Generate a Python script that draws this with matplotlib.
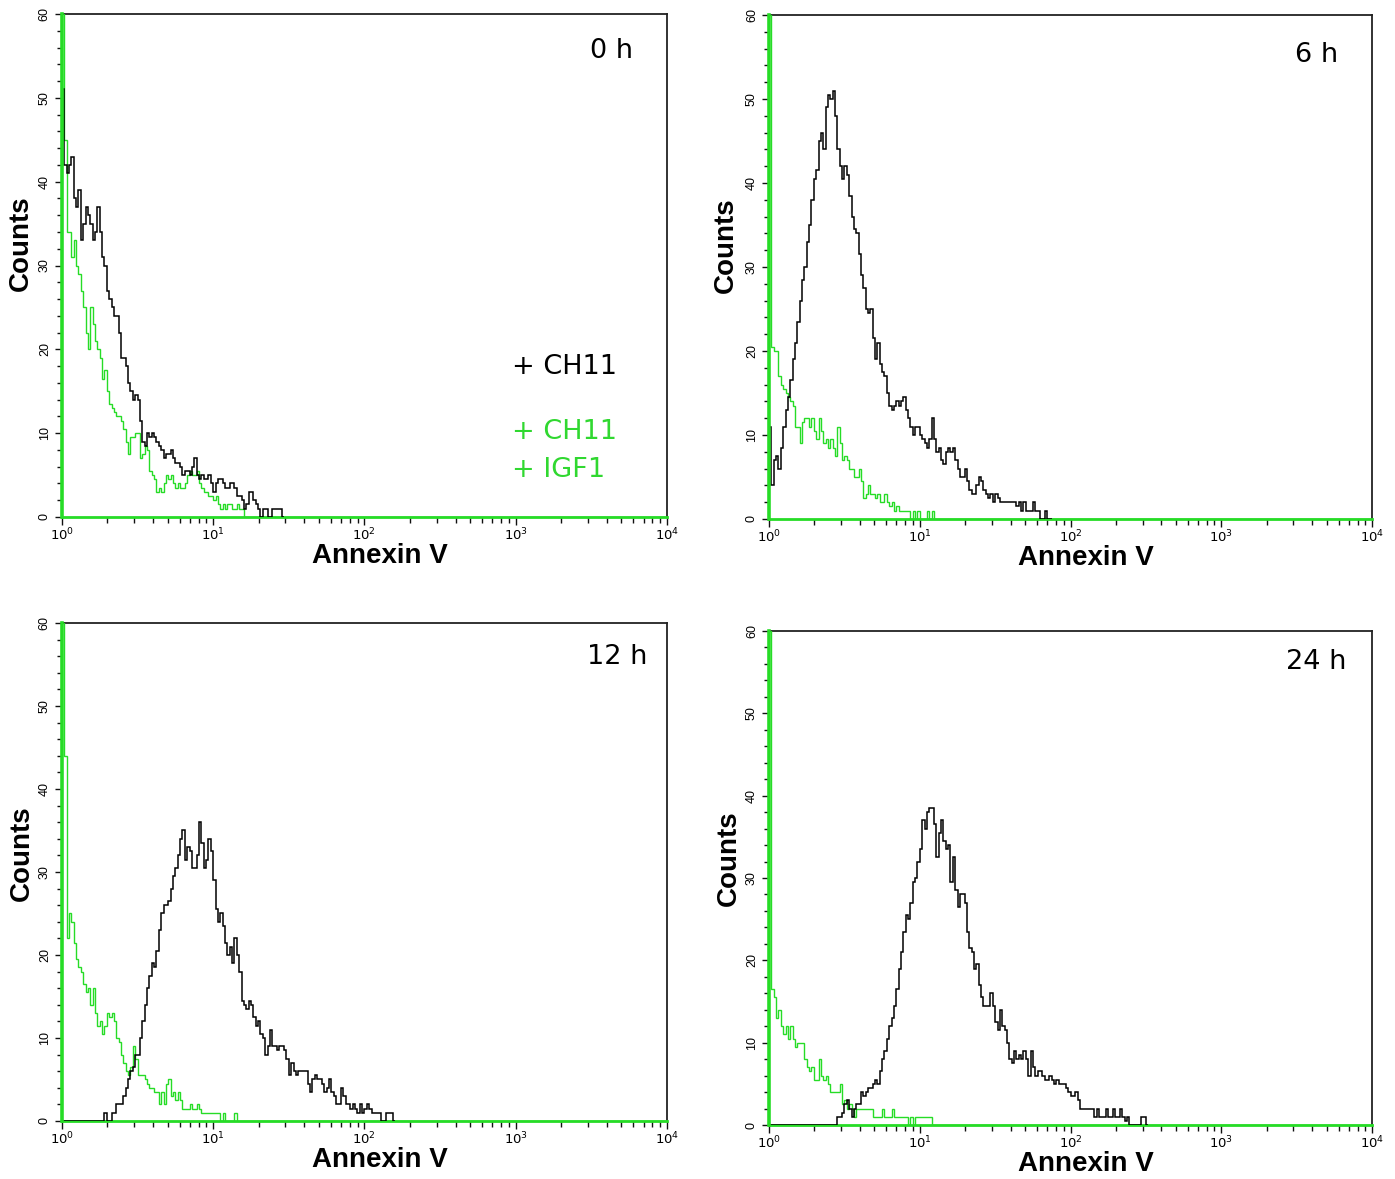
import numpy as np
import matplotlib
matplotlib.use("Agg")
import matplotlib.pyplot as plt
from matplotlib.ticker import FixedLocator, NullFormatter

# ---------------- data ----------------
CHANNELS_PER_DECADE = 64          # 256 log channels over 4 decades
N_CHANNELS = 256
PANEL_TITLES = ["0 h", "6 h", "12 h", "24 h"]
LEGEND_LABELS = ["+ CH11", "+ CH11", "+ IGF1"]
X_LABEL = "Annexin V"
Y_LABEL = "Counts"
Y_TICKS = [0, 10, 20, 30, 40, 50, 60]
X_TICKS = [1, 10, 100, 1000, 10000]
X_TICK_LABELS = [r"$10^0$", r"$10^1$", r"$10^2$", r"$10^3$", r"$10^4$"]

# counts per channel, starting at channel 0 (black = CH11, green = CH11 + IGF1)
CH11_0H = [51, 42, 41, 42, 43, 38, 37, 39, 33, 35, 37, 36, 35, 33, 34, 37, 34, 31, 30, 27,
           26, 25, 24, 24, 22, 19, 19, 18, 16, 15, 14, 14.5, 14, 11.5, 9, 8.5, 10, 9.5, 10, 9.5,
           9, 8.5, 8, 7, 7.5, 7.5, 8, 7, 6.5, 6.5, 6, 5, 5.5, 5.5, 5, 6, 7, 5, 4.5, 5,
           4.5, 4.5, 5, 4, 3, 4, 4.5, 4.5, 4, 3.5, 3.5, 4, 4, 3.5, 2.5, 2.5, 2, 1, 1.5, 3,
           3, 2, 1.5, 1, 0, 1, 1, 0, 0, 1, 1, 1, 1, 0]
CH11_IGF1_0H = [80, 45, 34, 34, 31, 33, 30, 29, 27, 25, 22, 20, 25, 23, 21, 20, 19, 16.5, 17.5, 15,
                13.5, 13, 12.5, 12, 12, 11.5, 10.5, 9, 7.5, 9.5, 9.5, 10, 10, 7, 7.5, 8.5, 8, 5.5, 5, 4.5,
                3, 3.5, 3, 4, 5, 4.5, 5, 4, 3.5, 4, 3.5, 3.5, 4, 5, 5.5, 5, 5, 5.5, 4, 3.5,
                3, 3, 2.5, 2.5, 2, 2.5, 1.5, 1, 1.5, 1, 1.5, 1.5, 1, 1, 1.5, 1, 1, 0]

CH11_6H = [11, 4, 7, 7.5, 6, 8.5, 11, 13, 14.5, 16.5, 19, 21, 23.5, 26, 28.5, 30, 33, 35, 38, 40.5,
           41.5, 45, 46, 44, 49, 50.5, 50, 51, 48, 44, 42, 40.5, 42, 41, 38.5, 36, 34.5, 34, 31.5, 29,
           27.5, 25, 24.5, 25, 21.5, 19, 21, 18.5, 17.5, 17, 15, 13.5, 13, 13.5, 14, 13.5, 14, 14.5, 13, 12,
           11, 10, 11, 11, 10, 9.5, 9, 8.5, 9.5, 12, 9.5, 8, 8.5, 7, 6.5, 8, 8.5, 8, 8.5, 7,
           6, 5, 5, 6, 4.5, 3.5, 3, 3, 4, 5, 4.5, 3.5, 3, 2.5, 3, 2, 3, 2.5, 2, 2,
           2, 2, 2, 2, 2, 1.5, 2, 1, 2, 1, 1, 1, 2, 1, 1, 0, 0, 1, 0, 0]
CH11_IGF1_6H = [80, 20.5, 20, 20, 17, 16, 15.5, 15, 14.5, 14, 13.5, 11, 11, 9, 11.5, 12, 12, 11, 12, 10.5,
                9.5, 12, 10.5, 9, 9.5, 8.5, 9.5, 8.5, 7.5, 11, 9, 7, 7.5, 7, 6, 6, 5, 5, 6, 4.5,
                2.5, 3, 4, 3, 3, 2.5, 3, 2, 2, 3, 2, 1.5, 2, 1, 1.5, 1, 1, 1, 1, 1,
                0, 1, 0, 1, 0, 0, 0, 1, 0, 1, 0]

CH11_12H = [0, 0, 0, 0, 0, 0, 0, 0, 0, 0, 0, 0, 0, 0, 0, 0, 0, 0, 1, 0,
            0, 1, 1, 2, 2, 2, 3, 4, 5, 6, 6.5, 8, 8, 10, 12, 14, 16, 17.5, 19, 18.5,
            20.5, 23, 25, 26, 26, 26.5, 28, 29.5, 30.5, 32, 34, 35, 31.5, 33, 32.5, 30.5, 30.5, 32, 36, 33.5,
            30.5, 31.5, 34, 32.5, 29, 25.5, 24, 25, 23.5, 21.5, 20, 21, 19, 22, 20, 18, 14.5, 14, 13.5, 14.5,
            14, 12.5, 11.5, 12, 10.5, 10, 8, 9, 11, 9, 9, 8.5, 9, 9, 8.5, 7.5, 5.5, 7, 6, 5.5,
            6, 6, 6, 6, 4.5, 3.5, 5, 5.5, 5, 5, 4.5, 3.5, 4, 5, 3.5, 3, 2, 2, 4, 3,
            2, 2, 1.5, 2, 1.5, 1, 2, 1, 1.5, 2, 1.5, 1, 1, 1, 1, 0, 0, 1, 1, 1, 0]
CH11_IGF1_12H = [80, 44, 22, 25, 24, 21.5, 19.5, 18.5, 18, 16.5, 15.5, 16, 14, 16, 13, 11.5, 12, 10.5, 11.5, 13,
                 12.5, 13, 12, 10, 9.5, 8, 7, 6, 5.5, 6.5, 9, 7.5, 5.5, 5.5, 5.5, 5, 4.5, 4, 4, 3.5,
                 3.5, 2, 3.5, 2, 4.5, 5, 3, 3.5, 2.5, 3.5, 2.5, 1.5, 1.5, 1.5, 2, 1.5, 1.5, 2, 1.5, 1,
                 1, 1, 1, 1, 1, 1, 1, 0, 1, 0, 0, 0, 0, 1, 0]

CH11_24H = [0, 0, 0, 0, 0, 0, 0, 0, 0, 0, 0, 0, 0, 0, 0, 0, 0, 0, 0, 0,
            0, 0, 0, 0, 0, 0, 0, 0, 0, 1, 1, 1.5, 2.5, 3, 2, 1, 2, 2.5, 2.5, 4,
            3.5, 4, 4.5, 4.5, 5, 5.5, 5, 6.5, 8, 9, 10.5, 12, 13, 14.5, 16.5, 19, 21, 23.5, 25.5, 25,
            27, 29.5, 30, 32, 33.5, 37, 36, 38, 38.5, 38.5, 36.5, 32.5, 35.5, 37, 34.5, 33.5, 34, 29.5, 32.5, 28.5,
            26.5, 28, 28, 27, 23.5, 21.5, 21, 19, 19.5, 17, 15.5, 14.5, 14.5, 14.5, 16, 14.5, 12.5, 11.5, 14, 12,
            11.5, 10, 8, 7.5, 9, 8, 8.5, 8, 9, 8, 6, 9, 7, 6, 6.5, 6.5, 6, 5.5, 5.5, 6,
            5.5, 5, 5.5, 5, 5, 5, 4.5, 4, 3.5, 3.5, 4, 3, 2, 2, 2, 2, 2, 2, 1, 2,
            1, 1, 1, 2, 1, 1, 2, 1, 1, 2, 1, 0.5, 1, 0, 0, 0, 0, 0, 1, 1, 0]
CH11_IGF1_24H = [80, 16.5, 15.5, 13, 14, 12, 11, 12, 10.5, 12, 10.5, 9.5, 10, 10, 10, 8, 7, 6.5, 7, 5.5,
                 5.5, 8, 6, 5.5, 6, 5, 4, 4, 4, 4, 5, 2.5, 3, 2, 2.5, 2, 1, 2, 2, 2,
                 2, 2, 2, 2, 1, 1, 1, 1, 2, 1, 1, 1, 2, 1, 1, 1, 1, 1, 1, 0,
                 1, 0, 1, 1, 1, 1, 1, 1, 1, 0]

BLACK_SERIES = [CH11_0H, CH11_6H, CH11_12H, CH11_24H]
GREEN_SERIES = [CH11_IGF1_0H, CH11_IGF1_6H, CH11_IGF1_12H, CH11_IGF1_24H]

# ---------------- style / layout ----------------
GREEN = "#26dc26"
LEGEND_GREEN = "#30d830"
BOLD_FONT = "Liberation Sans"
SOFT_FONT = "DejaVu Sans"

AX_RECTS = [
    (0.0444, 0.5615, 0.4337, 0.4266),
    (0.5513, 0.5598, 0.4323, 0.4275),
    (0.0444, 0.0492, 0.4337, 0.4224),
    (0.5513, 0.0458, 0.4323, 0.4190),
]
TITLE_POS = [(0.944, 0.926), (0.944, 0.921), (0.967, 0.932), (0.958, 0.937)]
YLABEL_POS = [(-0.047, 0.545), (-0.050, 0.544), (-0.045, 0.538), (-0.045, 0.540)]

fig = plt.figure(figsize=(13.95, 11.79), dpi=100)
fig.patch.set_facecolor("white")

for i in range(4):
    ax = fig.add_axes(AX_RECTS[i])
    ax.set_xscale("log")

    green = np.asarray(GREEN_SERIES[i], dtype=float)
    green = np.concatenate([green, np.zeros(N_CHANNELS - len(green))])
    g_edges = 10 ** (np.arange(len(green) + 1) / CHANNELS_PER_DECADE)
    ax.stairs(green, g_edges, baseline=None, color=GREEN, lw=1.0, zorder=3)

    black = np.asarray(BLACK_SERIES[i], dtype=float)
    b_edges = 10 ** (np.arange(len(black) + 1) / CHANNELS_PER_DECADE)
    ax.stairs(black, b_edges, baseline=None, color="black", lw=1.1, zorder=4)

    ax.set_xlim(1, 10000)
    ax.set_ylim(0, 60)

    # spines
    for s in ("top", "right"):
        ax.spines[s].set_color("#222222")
        ax.spines[s].set_linewidth(1.3)
    ax.spines["left"].set_color(GREEN)
    ax.spines["left"].set_linewidth(2.6)
    ax.spines["bottom"].set_color(GREEN)
    ax.spines["bottom"].set_linewidth(2.0)
    ax.spines["left"].set_zorder(5)

    # ticks
    ax.xaxis.set_major_locator(FixedLocator(X_TICKS))
    ax.set_xticklabels(X_TICK_LABELS)
    minor = [m * 10 ** d for d in range(4) for m in range(2, 10)]
    ax.xaxis.set_minor_locator(FixedLocator(minor))
    ax.xaxis.set_minor_formatter(NullFormatter())
    ax.yaxis.set_major_locator(FixedLocator(Y_TICKS))
    ax.yaxis.set_minor_locator(FixedLocator(list(range(0, 61, 2))))
    ax.tick_params(axis="both", which="both", direction="out", color="#111111", width=1.0)
    ax.tick_params(axis="x", which="major", length=5.5, pad=1.5, labelsize=9.5)
    ax.tick_params(axis="x", which="minor", length=4)
    ax.tick_params(axis="y", which="major", length=5, pad=3, labelsize=9)
    ax.tick_params(axis="y", which="minor", length=3.5)
    for lab in ax.get_yticklabels():
        lab.set_rotation(90)
        lab.set_va("center")
        lab.set_family(BOLD_FONT)

    ax.set_xlabel(X_LABEL, fontsize=20, fontweight="bold", family=BOLD_FONT)
    ax.xaxis.set_label_coords(0.525, -0.052)
    ax.set_ylabel(Y_LABEL, fontsize=20, fontweight="bold", family=BOLD_FONT)
    ax.yaxis.set_label_coords(*YLABEL_POS[i])

    ax.text(TITLE_POS[i][0], TITLE_POS[i][1], PANEL_TITLES[i], transform=ax.transAxes,
            ha="right", va="center", fontsize=19.5, family=SOFT_FONT, color="black")

# legend text in the first panel
ax0 = fig.axes[0]
ax0.text(0.744, 0.298, LEGEND_LABELS[0], transform=ax0.transAxes, ha="left", va="center",
         fontsize=19.5, family=SOFT_FONT, color="black")
ax0.text(0.744, 0.169, LEGEND_LABELS[1], transform=ax0.transAxes, ha="left", va="center",
         fontsize=19.5, family=SOFT_FONT, color=LEGEND_GREEN)
ax0.text(0.744, 0.093, LEGEND_LABELS[2], transform=ax0.transAxes, ha="left", va="center",
         fontsize=19.5, family=SOFT_FONT, color=LEGEND_GREEN)

fig.savefig("out.png", dpi=100, facecolor="white")
